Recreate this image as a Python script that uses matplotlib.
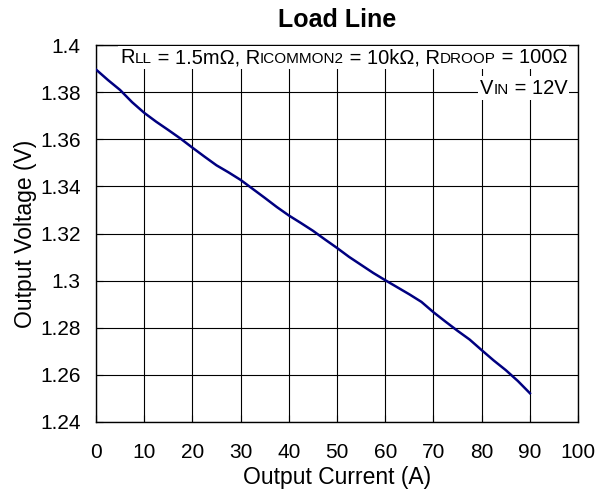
import matplotlib
matplotlib.use("Agg")
import matplotlib.pyplot as plt
from matplotlib.offsetbox import TextArea, HPacker, AnchoredOffsetbox

plt.rcParams['font.family'] = ['Liberation Sans', 'DejaVu Sans']

# output current (A) and output voltage (V)
current = [0, 2.5, 5, 7.5, 10, 12.5, 15, 17.5, 20, 22.5, 25, 27.5, 30,
           32.5, 35, 37.5, 40, 42.5, 45, 47.5, 50, 52.5, 55, 57.5, 60,
           62.5, 65, 67.5, 70, 72.5, 75, 77.5, 80, 82.5, 85, 87.5, 90]
voltage = [1.3897, 1.3852, 1.3810, 1.3758, 1.3713, 1.3675, 1.3640, 1.3604,
           1.3565, 1.3527, 1.3490, 1.3460, 1.3428, 1.3390, 1.3352, 1.3313,
           1.3277, 1.3245, 1.3212, 1.3175, 1.3139, 1.3101, 1.3067, 1.3033,
           1.3002, 1.2972, 1.2942, 1.2910, 1.2866, 1.2826, 1.2787, 1.2750,
           1.2705, 1.2661, 1.2620, 1.2574, 1.2522]

xticks = [0, 10, 20, 30, 40, 50, 60, 70, 80, 90, 100]
yticks = [1.24, 1.26, 1.28, 1.3, 1.32, 1.34, 1.36, 1.38, 1.4]
ylabels = ['1.24', '1.26', '1.28', '1.3', '1.32', '1.34', '1.36', '1.38', '1.4']

# condition text: (string, is_subscript)
line1 = [('R', False), ('LL', True), (' = 1.5mΩ, R', False), ('ICOMMON2', True),
         (' = 10kΩ, R', False), ('DROOP', True), (' = 100Ω', False)]
line2 = [('V', False), ('IN', True), (' = 12V', False)]

fig = plt.figure(figsize=(5.96, 4.97), dpi=100)
ax = fig.add_axes([0.161, 0.151, 0.809, 0.758])

ax.plot(current, voltage, color='#000080', lw=1.8, zorder=3)

ax.set_xlim(0, 100)
ax.set_ylim(1.24, 1.4)
ax.set_xticks(xticks)
ax.set_yticks(yticks)
ax.set_yticklabels(ylabels)
ax.tick_params(direction='in', length=5, labelsize=15, colors='black')
ax.tick_params(axis='x', pad=15)
ax.tick_params(axis='y', pad=11)
ax.grid(True, color='black', lw=0.8)
ax.set_axisbelow(True)
for s in ax.spines.values():
    s.set_linewidth(1.0)
    s.set_color('black')

ax.set_xlabel('Output Current (A)', fontsize=16.5, labelpad=3)
ax.set_ylabel('Output Voltage (V)', fontsize=16.5, labelpad=2)
ax.set_title('Load Line', fontsize=18, fontweight='bold', pad=13)


def cond_box(parts, y):
    kids = [TextArea(t, textprops=dict(size=11 if sub else 14.5))
            for t, sub in parts]
    row = HPacker(children=kids, align='baseline', pad=0, sep=0)
    ab = AnchoredOffsetbox(loc='upper right', child=row, pad=0.15, borderpad=0,
                           frameon=True, bbox_to_anchor=(0.982, y),
                           bbox_transform=ax.transAxes)
    ab.patch.set_facecolor('white')
    ab.patch.set_edgecolor('none')
    ab.set_zorder(4)
    ax.add_artist(ab)


cond_box(line1, 0.998)
cond_box(line2, 0.917)

fig.savefig('out.png', dpi=100)
